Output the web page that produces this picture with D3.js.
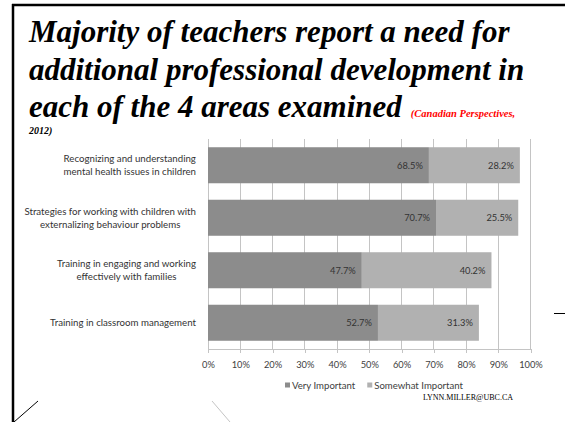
<!DOCTYPE html>
<html>
<head>
<meta charset="utf-8">
<script src="https://cdn.jsdelivr.net/npm/d3@7"></script>
<style>
  html, body { margin: 0; padding: 0; background: #fff; }
  svg { display: block; }
</style>
</head>
<body>
<svg id="chart" width="565" height="422"></svg>
<script>
// Survey areas (each entry is the wrapped lines of its label)
const categories = [
  ["Recognizing and understanding", "mental health issues in children"],
  ["Strategies for working with children with", "externalizing behaviour problems"],
  ["Training in engaging and working", "effectively with families"],
  ["Training in classroom management"]
];
const seriesNames = ["Very Important", "Somewhat Important"];
const veryImportant = [68.5, 70.7, 47.7, 52.7];
const somewhatImportant = [28.2, 25.5, 40.2, 31.3];
const tickValues = [0, 10, 20, 30, 40, 50, 60, 70, 80, 90, 100];
const titleLines = [
  "Majority of teachers report a need for",
  "additional professional development in",
  "each of the 4 areas examined"
];
const citation = "(Canadian Perspectives,";
const citationYear = "2012)";
const credit = "LYNN.MILLER@UBC.CA";

const colors = ["#8c8c8c", "#b1b1b1"];
const labelFont = "Lato, 'Open Sans', sans-serif";

const svg = d3.select("#chart");

// Slide frame: top and left rules plus small decorative strokes
const deco = svg.append("g");
deco.append("line").attr("x1", 12).attr("x2", 565).attr("y1", 5).attr("y2", 5)
  .attr("stroke", "#000").attr("stroke-width", 2.5);
deco.append("line").attr("x1", 13).attr("x2", 13).attr("y1", 4).attr("y2", 422)
  .attr("stroke", "#000").attr("stroke-width", 2.5);
deco.append("line").attr("x1", 14).attr("y1", 422).attr("x2", 38).attr("y2", 401)
  .attr("stroke", "#000").attr("stroke-width", 1);
deco.append("line").attr("x1", 212).attr("y1", 401).attr("x2", 230).attr("y2", 422)
  .attr("stroke", "#c4c4c4").attr("stroke-width", 1);
deco.append("line").attr("x1", 554).attr("y1", 313.5).attr("x2", 565).attr("y2", 313.5)
  .attr("stroke", "#000").attr("stroke-width", 1);

// Title
const title = svg.append("g")
  .attr("font-family", "'Liberation Serif', 'Times New Roman', serif")
  .attr("font-weight", "bold").attr("font-style", "italic");
titleLines.forEach((t, i) => {
  title.append("text").attr("x", 29).attr("y", 42 + i * 37.5)
    .attr("font-size", 31).attr("fill", "#000").text(t);
});
const lastLine = title.selectAll("text").nodes()[2];
const lastW = lastLine.getComputedTextLength();
title.append("text").attr("x", 29 + lastW + 9).attr("y", 117)
  .attr("font-size", 10.5).attr("fill", "#ff0000").text(citation);
title.append("text").attr("x", 29).attr("y", 134)
  .attr("font-size", 10).attr("fill", "#000").text(citationYear);

// Chart scales
const x = d3.scaleLinear().domain([0, 100]).range([208, 530.5]);
const y = d3.scaleBand().domain(d3.range(categories.length))
  .range([139, 349]).paddingInner(0.314).paddingOuter(0.157);

// Vertical gridlines
svg.append("g").selectAll("line").data(tickValues).join("line")
  .attr("x1", d => x(d)).attr("x2", d => x(d))
  .attr("y1", y.range()[0]).attr("y2", y.range()[1])
  .attr("stroke", "#c4c4c4").attr("stroke-width", 1)
  .attr("shape-rendering", "crispEdges");

// Bottom axis
const axis = svg.append("g").attr("transform", `translate(0,${y.range()[1]})`)
  .call(d3.axisBottom(x).tickValues(tickValues).tickFormat(d => d + "%")
    .tickSizeInner(4).tickSizeOuter(0).tickPadding(8));
axis.select(".domain").attr("stroke", "#c4c4c4").attr("shape-rendering", "crispEdges");
axis.selectAll(".tick line").attr("stroke", "#c4c4c4").attr("shape-rendering", "crispEdges");
axis.selectAll(".tick text").attr("font-family", labelFont).attr("font-size", 9.3)
  .attr("fill", "#404040");

// Stacked bars
const stacked = categories.map((c, i) => {
  const v = veryImportant[i], s = somewhatImportant[i];
  return [
    { i, k: 0, x0: 0, x1: v, value: v },
    { i, k: 1, x0: v, x1: v + s, value: s }
  ];
}).flat();

const bars = svg.append("g");
bars.selectAll("rect").data(stacked).join("rect")
  .attr("x", d => x(d.x0)).attr("width", d => x(d.x1) - x(d.x0))
  .attr("y", d => y(d.i)).attr("height", y.bandwidth())
  .attr("fill", d => colors[d.k]);

// Value labels at the inner end of each segment
bars.selectAll("text").data(stacked).join("text")
  .attr("x", d => x(d.x1) - 6).attr("y", d => y(d.i) + y.bandwidth() / 2)
  .attr("dy", "0.35em").attr("text-anchor", "end")
  .attr("font-family", labelFont).attr("font-size", 9.3).attr("fill", "#333")
  .text(d => d.value.toFixed(1) + "%");

// Category labels: each block right-aligned to the axis, lines centred within it
const catG = svg.append("g").attr("font-family", labelFont).attr("font-size", 9.7)
  .attr("fill", "#333");
categories.forEach((lines, i) => {
  const g = catG.append("g");
  const cy = y(i) + y.bandwidth() / 2;
  const lh = 13;
  const texts = lines.map((t, j) => g.append("text")
    .attr("y", cy + (j - (lines.length - 1) / 2) * lh)
    .attr("dy", "0.35em").attr("text-anchor", "middle").text(t));
  const maxW = d3.max(texts, t => t.node().getComputedTextLength());
  texts.forEach(t => t.attr("x", 196 - maxW / 2));
});

// Legend
const legend = svg.append("g").attr("font-family", labelFont).attr("font-size", 9.6)
  .attr("fill", "#404040");
let lx = 285;
seriesNames.forEach((name, k) => {
  legend.append("rect").attr("x", lx).attr("y", 382.5).attr("width", 5).attr("height", 5)
    .attr("fill", colors[k]);
  const t = legend.append("text").attr("x", lx + 7).attr("y", 385.5).attr("dy", "0.35em")
    .text(name);
  lx += 7 + t.node().getComputedTextLength() + 12;
});

// Credit line
svg.append("text").attr("x", 513).attr("y", 400).attr("text-anchor", "end")
  .attr("font-family", "'Liberation Serif', 'Times New Roman', serif")
  .attr("font-size", 8).attr("fill", "#000").text(credit);
</script>
</body>
</html>
